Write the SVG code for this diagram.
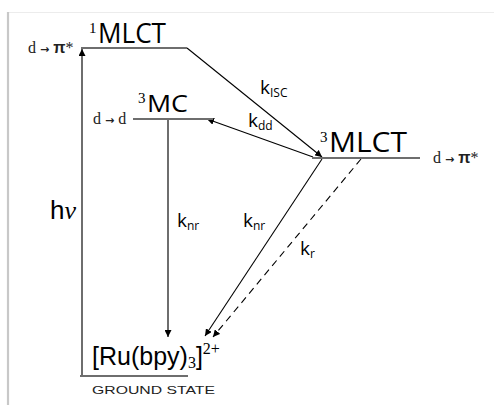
<svg xmlns="http://www.w3.org/2000/svg" width="494" height="405" viewBox="0 0 494 405">
<defs>
<marker id="ah" viewBox="0 0 10 10" refX="10" refY="5" markerWidth="7" markerHeight="7" markerUnits="userSpaceOnUse" orient="auto">
<path d="M0,0 L10,5 L0,10 z" fill="#000"/>
</marker>
<style>
.lvl{stroke:#6e6e6e;stroke-width:2;fill:none}
.arr{stroke:#000;stroke-width:1.1;fill:none}
.varr{stroke:#4a4a4a;stroke-width:1.6;fill:none}
.big{font-family:"Open Sans","Liberation Sans",sans-serif;fill:#000}
.sup{font-family:"Liberation Serif",serif;fill:#000}
.tr{font-family:"Liberation Serif",serif;fill:#222;font-size:16px}
.ar{font-family:"DejaVu Sans",sans-serif;font-weight:bold;font-size:11px}
.pi{font-family:"Liberation Sans",sans-serif;font-weight:bold}
.k{font-family:"Open Sans","Liberation Sans",sans-serif;fill:#000;font-size:19px}
.ks{font-size:12px}
</style>
</defs>
<rect width="494" height="405" fill="#fff"/>
<line x1="8" y1="12.5" x2="494" y2="12.5" stroke="#ececec" stroke-width="1.2"/>
<line x1="8" y1="12" x2="8" y2="405" stroke="#c8c8c8" stroke-width="2.2"/>

<g id="connectors">
<line class="varr" x1="82" y1="376" x2="82" y2="49" marker-end="url(#ah)"/>
<line class="varr" x1="168" y1="119" x2="168" y2="337" marker-end="url(#ah)"/>
<line class="arr" x1="187" y1="48" x2="322" y2="157" marker-end="url(#ah)"/>
<line class="arr" x1="313" y1="157" x2="207" y2="119" marker-end="url(#ah)"/>
<line class="arr" x1="322" y1="159" x2="205" y2="336" marker-end="url(#ah)"/>
<line class="arr" x1="361" y1="159" x2="213" y2="337" stroke-dasharray="7,5" marker-end="url(#ah)"/>
<text class="k" x="260" y="94">k<tspan class="ks" dy="3">ISC</tspan></text>
<text class="k" x="248" y="127">k<tspan class="ks" dy="3">dd</tspan></text>
<text class="k" x="177" y="227">k<tspan class="ks" dy="3">nr</tspan></text>
<text class="k" x="243" y="227">k<tspan class="ks" dy="3">nr</tspan></text>
<text class="k" x="300" y="255">k<tspan class="ks" dy="3">r</tspan></text>
<text x="50" y="219" font-size="26"><tspan font-family="Liberation Sans, sans-serif">h</tspan><tspan font-family="Liberation Serif, serif" font-style="italic">ν</tspan></text>
</g>

<g id="mlct1">
<line class="lvl" x1="81" y1="48" x2="187" y2="48"/>
<text class="sup" x="89" y="33" font-size="15">1</text>
<text class="big" x="98" y="43" font-size="27" textLength="68" lengthAdjust="spacingAndGlyphs">MLCT</text>
<text class="tr" x="28" y="53">d <tspan class="ar">→</tspan> <tspan class="pi">π</tspan>*</text>
</g>

<g id="mc3">
<line class="lvl" x1="133" y1="119" x2="213" y2="119"/>
<text class="sup" x="138" y="103" font-size="15">3</text>
<text class="big" x="147" y="112" font-size="24" textLength="41" lengthAdjust="spacingAndGlyphs">MC</text>
<text class="tr" x="93" y="124" font-size="15">d <tspan class="ar" font-size="10">→</tspan> d</text>
</g>

<g id="mlct3">
<line class="lvl" x1="312" y1="158" x2="420" y2="158"/>
<text class="sup" x="320" y="142" font-size="15">3</text>
<text class="big" x="329" y="152" font-size="27" textLength="78" lengthAdjust="spacingAndGlyphs">MLCT</text>
<text class="tr" x="433" y="163" font-size="15">d <tspan class="ar" font-size="10">→</tspan> <tspan class="pi">π</tspan>*</text>
</g>

<g id="ground">
<line class="lvl" x1="80" y1="376" x2="188" y2="376"/>
<text x="92" y="365" font-family="Liberation Sans, sans-serif" font-size="25" fill="#000">[Ru(bpy)<tspan font-family="Liberation Serif, serif" font-size="16" dy="3">3</tspan><tspan dy="-3">]</tspan><tspan font-family="Liberation Serif, serif" font-size="16" dy="-11">2+</tspan></text>
<text x="92" y="394" font-family="Liberation Sans, sans-serif" font-size="11.5" fill="#222" textLength="123" lengthAdjust="spacingAndGlyphs">GROUND STATE</text>
</g>
</svg>
